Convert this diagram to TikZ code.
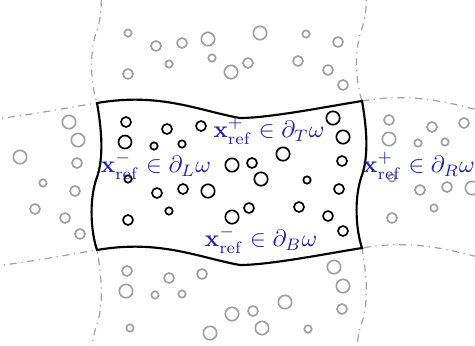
\documentclass[tikz,border=0pt]{standalone}
\usepackage{amsmath,amssymb,amsfonts}
\usepackage{tikz}
\usetikzlibrary{positioning,calc}
\usepackage{xcolor}
\definecolor{refblue}{RGB}{35,35,160}
\definecolor{cellgray}{RGB}{160,160,160}

% outline of one periodic cell (top, right, bottom, left)
\newcommand{\cellpath}{(97,103) .. controls (160,92) and (200,111) .. (240,118)
  .. controls (270,118) and (330,106) .. (362,101)
  .. controls (368,135) and (368,160) .. (361,178)
  .. controls (354,200) and (356,230) .. (362,248)
  .. controls (330,253) and (270,265) .. (240,265)
  .. controls (200,258) and (160,239) .. (97,250)
  .. controls (91,232) and (89,202) .. (96,180)
  .. controls (103,162) and (103,137) .. (97,103) -- cycle}

\begin{document}
\begin{tikzpicture}[x=0.0148cm,y=-0.0148cm,
    cellline/.style={line width=0.9pt,black},
    cellcopy/.style={cellgray,line width=0.5pt,dash dot},
    hole/.style={black,line width=0.7pt},
    holecopy/.style={cellgray,line width=0.7pt},
    lbl/.style={text=refblue}]
    \useasboundingbox (0,0) rectangle (475,345);

    % neighbouring cells
    \begin{scope}
        \clip (0,0) rectangle (475,345);
        \foreach \sx/\sy in {-265/2,265/-2,0/-147,0/147}{
            \draw[cellcopy,shift={(\sx,\sy)}] \cellpath;
        }
    \end{scope}
    \foreach \x/\y/\r in {128/33/3.7,156/46/5,182/43/5,208/39/6.7,260/33/6.7,306/34/3.7,338/42/5,
        169/64/3.7,212/58/3.7,128/74/5,231/72/6.7,248/63/5,298/61/5,328/70/5,343/85/5}{
        \draw[holecopy] (\x,\y) circle (\r);
    }
    \foreach \x/\y/\r in {127/271/5,126/291/6.7,169/278/5,202/274/5,155/295/3.7,182/294/3.7,
        334/267/6.7,343/286/6.7,285/302/6.7,232/314/6.7,253/311/5,342/309/5,130/328/3.7,
        262/328/6.7,308/329/3.7,210/333/6.7}{
        \draw[holecopy] (\x,\y) circle (\r);
    }
    \foreach \x/\y/\r in {69/122/6.7,78/140/6.7,77/163/5,20/157/6.7,43/183/3.7,75/191/5,
        35/209/5,65/218/5,80/234/5}{
        \draw[holecopy] (\x,\y) circle (\r);
    }
    \foreach \x/\y/\r in {389/120/5,389/139/6.7,432/127/5,464/123/5,418/143/3.7,445/142/3.7,
        392/178/3.7,420/190/5,447/187/5,472/188/6.7,434/208/3.7,392/218/5}{
        \draw[holecopy] (\x,\y) circle (\r);
    }

    % reference cell
    \draw[cellline] \cellpath;
    \foreach \x/\y/\r in {126/122/5,125/142/6.5,167/129/5,201/126/5,154/146/3.7,182/144/3.7,
        333/118/6.7,343/137/6.7,283/154/6.7,232/165/6.7,252/163/5,342/161/5,128/179/3.7,
        261/179/6.7,307/180/3.7,157/193/5,183/189/5,208/191/6.7,339/189/5,169/211/3.7,
        249/208/5,299/207/5,128/220/5,232/217/6.7,328/216/5,343/231/5}{
        \draw[hole] (\x,\y) circle (\r);
    }

    \node[lbl] (lblT) at (269,131) {$\mathbf{x}_{\mathrm{ref}}^{+}\in\partial_T\omega$};
    \node[lbl] (lblL) at (156,166) {$\mathbf{x}_{\mathrm{ref}}^{-}\in\partial_L\omega$};
    \node[lbl] (lblB) at (261,240) {$\mathbf{x}_{\mathrm{ref}}^{-}\in\partial_B\omega$};
    \node[lbl] (lblR) at (419,166) {$\mathbf{x}_{\mathrm{ref}}^{+}\in\partial_R\omega$};
\end{tikzpicture}
\end{document}
